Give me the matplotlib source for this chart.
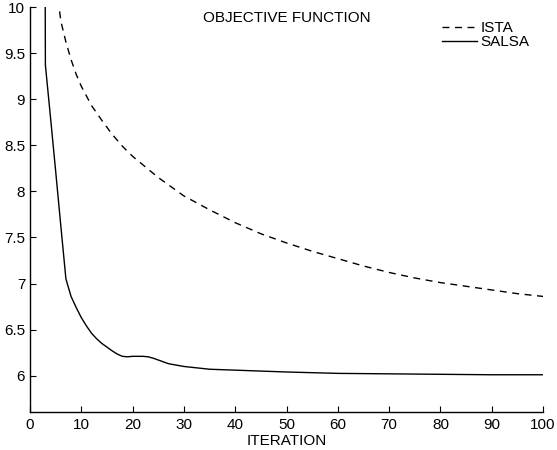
import matplotlib
matplotlib.use("Agg")
import matplotlib.pyplot as plt

plt.rcParams['font.family'] = ['Liberation Sans', 'DejaVu Sans']

# ISTA objective values
ista_x = [5, 6, 7, 8, 9, 10, 12, 14, 16, 18, 20, 25, 30, 35, 40, 45, 50,
          55, 60, 65, 70, 75, 80, 85, 90, 95, 100]
ista_y = [10.3, 9.85, 9.62, 9.43, 9.27, 9.14, 8.93, 8.77, 8.62, 8.49, 8.38,
          8.15, 7.95, 7.80, 7.66, 7.54, 7.44, 7.35, 7.27, 7.19, 7.12, 7.06,
          7.01, 6.97, 6.93, 6.89, 6.86]

# SALSA objective values
salsa_x = [2, 3, 4, 5, 6, 7, 8, 9, 10, 11, 12, 13, 14, 15, 16, 17, 18, 19,
           20, 21, 22, 23, 24, 25, 26, 27, 28, 30, 35, 40, 45, 50, 60, 70,
           80, 90, 100]
salsa_y = [30.0, 9.37, 8.8, 8.22, 7.63, 7.05, 6.86, 6.74, 6.63, 6.54, 6.46,
           6.40, 6.35, 6.31, 6.27, 6.235, 6.21, 6.205, 6.21, 6.21, 6.21, 6.205,
           6.19, 6.17, 6.15, 6.13, 6.12, 6.10, 6.07, 6.06, 6.05, 6.04, 6.025,
           6.02, 6.015, 6.01, 6.01]

xticks = list(range(0, 101, 10))
yticks = [6, 6.5, 7, 7.5, 8, 8.5, 9, 9.5, 10]
yticklabels = ['6', '6.5', '7', '7.5', '8', '8.5', '9', '9.5', '10']

FS = 11

fig = plt.figure(figsize=(5.57, 4.5), dpi=100)
ax = fig.add_axes([30/557, 1 - 412/450, (543-30)/557, (412-7)/450])

l1, = ax.plot(ista_x, ista_y, color='black', lw=1.0, linestyle=(0, (5, 4)), label='ISTA')
l2, = ax.plot(salsa_x, salsa_y, color='black', lw=1.0, label='SALSA')

ax.set_xlim(0, 100)
ax.set_ylim(5.606, 10)
ax.set_xticks(xticks)
ax.set_xticklabels([str(t) for t in xticks])
ax.set_yticks(yticks)
ax.set_yticklabels(yticklabels)
ax.tick_params(direction='in', length=4, width=0.8, labelsize=FS)
ax.tick_params(axis='x', pad=4.5)
ax.tick_params(axis='y', pad=3.5)

for s in ['top', 'right']:
    ax.spines[s].set_visible(False)
for s in ['left', 'bottom']:
    ax.spines[s].set_linewidth(1.0)

ax.set_xlabel('ITERATION', fontsize=FS, labelpad=1.5)
ax.text(0.5, 0.9725, 'OBJECTIVE FUNCTION', transform=ax.transAxes,
        ha='center', va='center', fontsize=FS)

leg = fig.legend(handles=[l1, l2], loc='upper left',
                 bbox_to_anchor=(442/557, 1 - 21/450), frameon=False,
                 fontsize=FS, handlelength=2.3, handletextpad=0.2,
                 labelspacing=0.0, borderpad=0, borderaxespad=0)

fig.savefig('out.png', dpi=100)
